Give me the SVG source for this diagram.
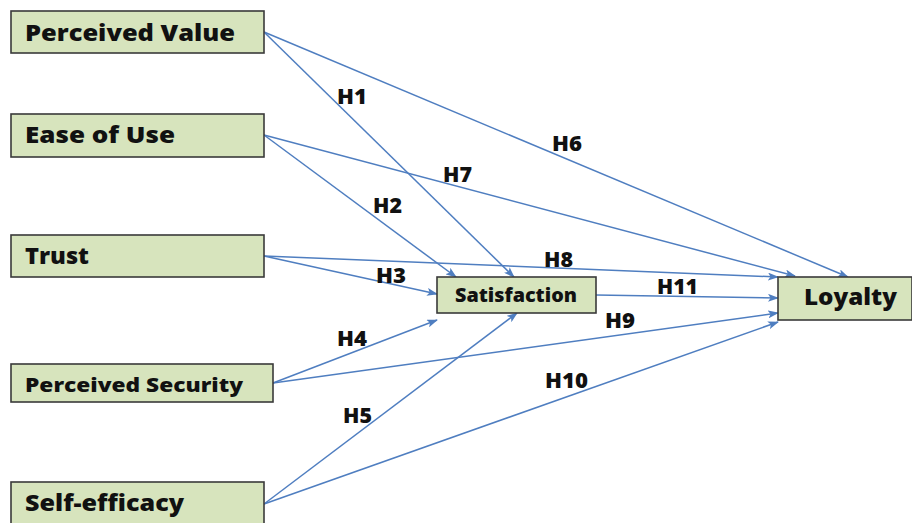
<svg xmlns="http://www.w3.org/2000/svg" width="912" height="523" viewBox="0 0 912 523">
<defs>
<marker id="ah" markerWidth="11" markerHeight="8" refX="10" refY="4" orient="auto" markerUnits="userSpaceOnUse">
<path d="M0,0 L11,4 L0,8 L2.5,4 Z" fill="#4F7EC0"/>
</marker>
<style>
.box{fill:#D7E4BD;stroke:#3a3a3a;stroke-width:1.6}
.t{font-family:"Open Sans","Liberation Sans",sans-serif;font-weight:800;fill:#111}
.big{font-size:22.5px}
.mid{font-size:20px}
.sm{font-size:18.5px}
.lab{font-family:"Open Sans","Liberation Sans",sans-serif;font-weight:800;font-size:20.5px;fill:#111}
.c{stroke:#4F7EC0;stroke-width:1.5;fill:none;marker-end:url(#ah)}
</style>
</defs>
<rect width="912" height="523" fill="#fff"/>
<g id="connectors">
<line class="c" x1="264" y1="32" x2="514" y2="277"/>
<line class="c" x1="264" y1="32" x2="848" y2="277"/>
<line class="c" x1="264" y1="135" x2="456" y2="277"/>
<line class="c" x1="264" y1="135" x2="795" y2="276"/>
<line class="c" x1="264" y1="256" x2="437" y2="294"/>
<line class="c" x1="264" y1="256" x2="778" y2="277"/>
<line class="c" x1="273" y1="383" x2="437" y2="320"/>
<line class="c" x1="273" y1="383" x2="778" y2="313"/>
<line class="c" x1="264" y1="504" x2="517" y2="313"/>
<line class="c" x1="264" y1="504" x2="778" y2="322"/>
<line class="c" x1="596" y1="295" x2="778" y2="298"/>
</g>
<g id="labels">
<text class="lab" x="337" y="104" textLength="30" lengthAdjust="spacingAndGlyphs">H1</text>
<text class="lab" x="373" y="213" textLength="29" lengthAdjust="spacingAndGlyphs">H2</text>
<text class="lab" x="376" y="283" textLength="30" lengthAdjust="spacingAndGlyphs">H3</text>
<text class="lab" x="337" y="346" textLength="30" lengthAdjust="spacingAndGlyphs">H4</text>
<text class="lab" x="343" y="423" textLength="29" lengthAdjust="spacingAndGlyphs">H5</text>
<text class="lab" x="552" y="151" textLength="30" lengthAdjust="spacingAndGlyphs">H6</text>
<text class="lab" x="443" y="182" textLength="29" lengthAdjust="spacingAndGlyphs">H7</text>
<text class="lab" x="544" y="267" textLength="29" lengthAdjust="spacingAndGlyphs">H8</text>
<text class="lab" x="605" y="328" textLength="30" lengthAdjust="spacingAndGlyphs">H9</text>
<text class="lab" x="545" y="388" textLength="43" lengthAdjust="spacingAndGlyphs">H10</text>
<text class="lab" x="657" y="294" textLength="41" lengthAdjust="spacingAndGlyphs">H11</text>
</g>
<g id="perceived-value">
<rect class="box" x="11" y="11" width="253" height="42"/>
<text class="t big" x="25" y="41" textLength="210" lengthAdjust="spacingAndGlyphs">Perceived Value</text>
</g>
<g id="ease-of-use">
<rect class="box" x="11" y="114" width="253" height="43"/>
<text class="t big" x="25" y="143" textLength="150" lengthAdjust="spacingAndGlyphs">Ease of Use</text>
</g>
<g id="trust">
<rect class="box" x="11" y="235" width="253" height="42"/>
<text class="t big" x="25" y="264" textLength="64" lengthAdjust="spacingAndGlyphs">Trust</text>
</g>
<g id="perceived-security">
<rect class="box" x="11" y="364" width="262" height="38"/>
<text class="t mid" x="25" y="392" textLength="218" lengthAdjust="spacingAndGlyphs">Perceived Security</text>
</g>
<g id="self-efficacy">
<rect class="box" x="11" y="482" width="253" height="50"/>
<text class="t big" x="25" y="511" textLength="159" lengthAdjust="spacingAndGlyphs">Self-efficacy</text>
</g>
<g id="satisfaction">
<rect class="box" x="437" y="277" width="159" height="36"/>
<text class="t sm" x="455" y="302" textLength="122" lengthAdjust="spacingAndGlyphs">Satisfaction</text>
</g>
<g id="loyalty">
<rect class="box" x="778" y="277" width="134" height="43"/>
<text class="t big" x="804" y="305" textLength="93" lengthAdjust="spacingAndGlyphs">Loyalty</text>
</g>
</svg>
